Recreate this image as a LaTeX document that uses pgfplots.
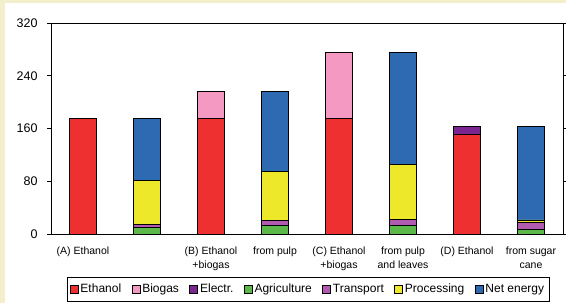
\documentclass[border=0pt]{standalone}
\usepackage{fontspec}
\setmainfont{Liberation Sans}
\usepackage{pgfplots}
\pgfplotsset{compat=1.18}
\definecolor{bgbeige}{HTML}{F3EFCC}
\definecolor{cEth}{HTML}{EE3130}
\definecolor{cBio}{HTML}{F49AC2}
\definecolor{cEle}{HTML}{7B2590}
\definecolor{cAgr}{HTML}{5DB84A}
\definecolor{cTra}{HTML}{B05BB0}
\definecolor{cPro}{HTML}{EEE82A}
\definecolor{cNet}{HTML}{2E6AB2}
\begin{document}
\begin{tikzpicture}
\fill[bgbeige] (0,0) rectangle (566pt,303pt);
\fill[white] (5pt,0) rectangle (566pt,300pt);
\begin{axis}[
  at={(51pt,68.7pt)}, anchor=south west,
  scale only axis, width=512pt, height=211.3pt,
  xmin=-0.5, xmax=7.5, ymin=0, ymax=320,
  ybar stacked, bar width=27pt,
  axis line style={black, line width=0.8pt},
  ytick={0,80,160,240,320},
  tick align=outside, major tick length=4pt,
  ytick style={black, line width=0.8pt},
  xtick={0,1,2,3,4,5,6,7},
  xtick style={draw=none},
  xticklabels={(A) Ethanol,,{(B) Ethanol\\+biogas},from pulp,{(C) Ethanol\\+biogas},{from pulp\\and leaves},(D) Ethanol,{from sugar\\cane}},
  xticklabel style={align=center, font=\fontsize{10.5}{14}\selectfont, yshift=-5pt},
  yticklabel style={font=\fontsize{12.5}{14}\selectfont, xshift=-6pt},
  /pgf/number format/assume math mode=true,
  every axis plot/.append style={draw=black, line width=0.8pt},
  legend columns=7,
  legend cell align=left,
  legend style={at={(0.502,-0.2007)}, anchor=north, draw=black, line width=0.6pt,
    font=\fontsize{12}{14}\selectfont, inner xsep=3pt, inner ysep=5pt,
    /tikz/every even column/.append style={column sep=8.5pt}},
  legend image code/.code={\draw[#1, draw=black, line width=0.6pt] (0pt,-4pt) rectangle (8pt,4pt);},
]
\addplot[fill=cEth] coordinates {(0,175) (1,0) (2,175) (3,0) (4,175) (5,0) (6,151.5) (7,0)};
\addplot[fill=cBio] coordinates {(0,0) (1,0) (2,41.5) (3,0) (4,100.5) (5,0) (6,0) (7,0)};
\addplot[fill=cEle] coordinates {(0,0) (1,0) (2,0) (3,0) (4,0) (5,0) (6,12) (7,0)};
\addplot[fill=cAgr] coordinates {(0,0) (1,10) (2,0) (3,13) (4,0) (5,13) (6,0) (7,7.5)};
\addplot[fill=cTra] coordinates {(0,0) (1,5) (2,0) (3,7.5) (4,0) (5,9.5) (6,0) (7,11)};
\addplot[fill=cPro] coordinates {(0,0) (1,67) (2,0) (3,74) (4,0) (5,83) (6,0) (7,3.3)};
\addplot[fill=cNet] coordinates {(0,0) (1,93) (2,0) (3,122) (4,0) (5,170) (6,0) (7,141.7)};
\legend{Ethanol,Biogas,Electr.,Agriculture,Transport,Processing,Net energy}
\end{axis}
\pgfresetboundingbox
\useasboundingbox (0,0) rectangle (566pt,303pt);
\end{tikzpicture}
\end{document}
